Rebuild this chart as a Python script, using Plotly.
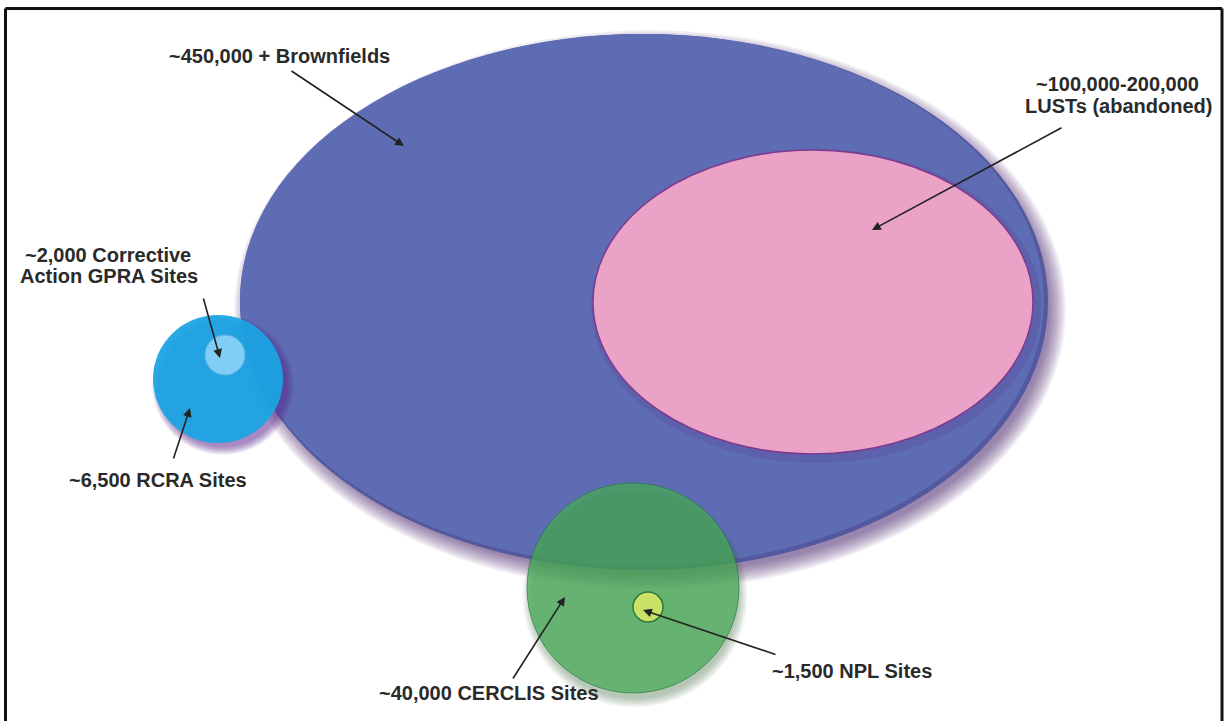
import plotly.graph_objects as go

W, H = 1225, 721

# Site universes: ellipse centre / radii on a pixel-style canvas
names = ["Brownfields", "LUST", "RCRA", "GPRA", "CERCLIS", "NPL"]
cx = [644, 813, 218, 225, 633, 648]
cy = [302, 302, 379, 355, 588, 607]
rx = [404, 220, 65, 20, 106, 15]
ry = [268, 152, 64, 20, 105, 15]
fills = ["#5E6CB4", "#EAA3C6", "rgba(26,165,228,0.93)", "#80CDF5",
         "rgba(70,172,86,0.72)", "#C9E265"]
outlines = ["#5A64AE", "#7E3A8E", "rgba(26,165,228,0.0)", "#5AB4E4",
            "rgba(40,120,70,0.7)", "#2F7A3A"]
outline_w = [0, 1.5, 0, 1, 1, 1.5]

# Soft drop shadows (offset x, offset y, spread, colour)
shadow_of = {"Brownfields": (6, 8, 18, "rgba(70,30,100,0.08)"),
             "RCRA": (5, 6, 9, "rgba(90,40,140,0.08)"),
             "CERCLIS": (2, 8, 10, "rgba(40,90,50,0.045)")}

# Labels (one entry per text line) and arrows
label_text = ["~450,000 + Brownfields",
              "~100,000-200,000", "LUSTs (abandoned)",
              "~6,500 RCRA Sites",
              "~2,000 Corrective", "Action GPRA Sites",
              "~40,000 CERCLIS Sites",
              "~1,500 NPL Sites"]
label_x = [279, 1117, 1118, 158, 108, 109, 489, 852]
label_y = [56, 84, 106, 480, 255, 276, 693, 671]
arrow_tail_x = [290, 1063, 173, 203, 512, 777]
arrow_tail_y = [70, 127, 460, 297, 680, 655]
arrow_head_x = [404, 872, 190, 220, 565, 643]
arrow_head_y = [146, 230, 408, 358, 597, 610]

shapes = []


def ellipse(x, y, a, b, fill, line_color="rgba(0,0,0,0)", lw=0):
    return dict(type="circle", xref="x", yref="y",
                x0=x - a, x1=x + a, y0=y - b, y1=y + b,
                fillcolor=fill, line=dict(color=line_color, width=lw),
                layer="above")


for i, n in enumerate(names):
    if n in shadow_of:
        dx, dy, spread, col = shadow_of[n]
        steps = 9
        for k in range(steps, 0, -1):
            grow = spread * k / steps
            shapes.append(ellipse(cx[i] + dx, cy[i] + dy,
                                  rx[i] + grow - spread * 0.35,
                                  ry[i] + grow - spread * 0.35, col))
    if n == "Brownfields":
        # slightly darker rim along the lower-right edge
        shapes.append(ellipse(cx[i], cy[i], rx[i], ry[i], "#54589F"))
        shapes.append(ellipse(cx[i] - 2, cy[i] - 2, rx[i] - 2, ry[i] - 2,
                              fills[i]))
    elif n == "LUST":
        # soft purple halo round the LUST ellipse
        shapes.append(ellipse(cx[i] + 3, cy[i] + 4, rx[i] + 5, ry[i] + 5,
                              "rgba(90,50,140,0.18)"))
        shapes.append(ellipse(cx[i], cy[i], rx[i], ry[i], fills[i],
                              outlines[i], outline_w[i]))
    else:
        shapes.append(ellipse(cx[i], cy[i], rx[i], ry[i], fills[i],
                              outlines[i], outline_w[i]))

# Frame round the figure
frame_col = "#111111"
shapes += [
    dict(type="line", xref="x", yref="y", x0=5.5, x1=1222, y0=8.5, y1=8.5,
         line=dict(color=frame_col, width=3)),
    dict(type="line", xref="x", yref="y", x0=5.5, x1=5.5, y0=8.5, y1=721,
         line=dict(color=frame_col, width=3)),
    dict(type="line", xref="x", yref="y", x0=1222, x1=1222, y0=8.5, y1=721,
         line=dict(color=frame_col, width=3)),
]

annotations = []
for i in range(len(label_text)):
    annotations.append(dict(
        x=label_x[i], y=label_y[i], xref="x", yref="y",
        text="<b>" + label_text[i] + "</b>", showarrow=False,
        font=dict(family="Liberation Sans, Arial, sans-serif", size=20,
                  color="#2A2A2A"),
        align="center", xanchor="center", yanchor="middle"))
for i in range(len(arrow_tail_x)):
    annotations.append(dict(
        x=arrow_head_x[i], y=arrow_head_y[i], xref="x", yref="y",
        ax=arrow_tail_x[i], ay=arrow_tail_y[i], axref="x", ayref="y",
        text="", showarrow=True, arrowhead=2, arrowsize=1.1,
        arrowwidth=1.6, arrowcolor="#222222", standoff=0, startstandoff=0))

fig = go.Figure()
fig.add_trace(go.Scatter(x=[0, W], y=[0, H], mode="markers",
                         marker=dict(opacity=0), hoverinfo="skip",
                         showlegend=False))
fig.update_layout(
    width=W, height=H, margin=dict(l=0, r=0, t=0, b=0),
    paper_bgcolor="white", plot_bgcolor="white",
    xaxis=dict(range=[0, W], visible=False, fixedrange=True),
    yaxis=dict(range=[H, 0], visible=False, fixedrange=True),
    shapes=shapes, annotations=annotations, showlegend=False)

fig.write_html("out.html")
